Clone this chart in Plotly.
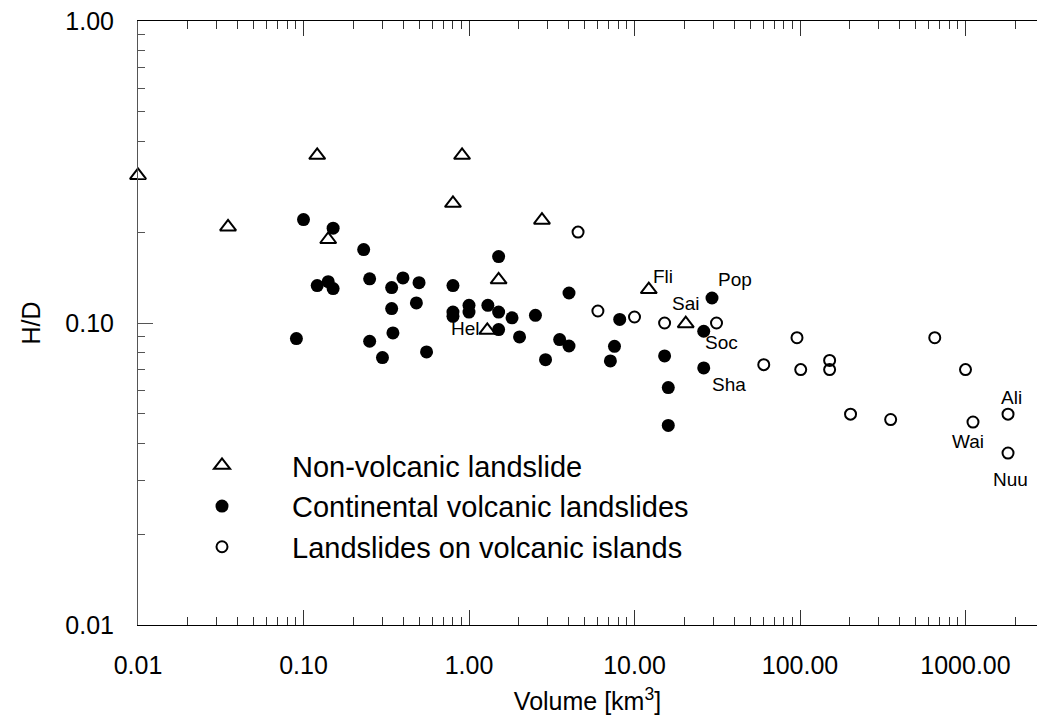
import numpy as np
import plotly.graph_objects as go

# ---------------- data ----------------
nonvolc_vol = [0.01, 0.035, 0.121, 0.141, 0.908, 0.80, 2.76, 1.51, 1.29, 12.2, 20.4]
nonvolc_hd = [0.308, 0.208, 0.359, 0.189, 0.359, 0.249, 0.219, 0.139, 0.0946, 0.129, 0.0995]

cont_vol = [0.100, 0.151, 0.231, 1.51, 0.121, 0.141, 0.151, 0.251, 0.341, 0.399,
            0.499, 0.80, 0.341, 0.481, 0.80, 0.80, 1.0, 1.0, 1.30, 1.51,
            1.82, 2.52, 1.51, 2.02, 0.0906, 0.251, 0.347, 0.554, 0.300, 2.90,
            4.02, 3.53, 4.02, 8.14, 7.57, 7.15, 15.2, 16.0, 16.0, 29.4,
            26.2, 26.2]
cont_hd = [0.220, 0.206, 0.175, 0.166, 0.133, 0.137, 0.130, 0.140, 0.131, 0.141,
           0.136, 0.133, 0.1116, 0.1165, 0.1087, 0.1052, 0.1144, 0.1087, 0.1144, 0.1087,
           0.104, 0.106, 0.0951, 0.0899, 0.0888, 0.0870, 0.0927, 0.0802, 0.0768, 0.0756,
           0.1257, 0.0881, 0.0839, 0.1028, 0.0837, 0.0749, 0.0778, 0.0611, 0.0458, 0.121,
           0.0939, 0.0710]

isl_vol = [4.56, 6.01, 10.0, 15.2, 31.3, 95.9, 60.4, 101, 151, 151,
           652, 1000, 202, 353, 1110, 1807, 1807]
isl_hd = [0.200, 0.1096, 0.1047, 0.100, 0.100, 0.0894, 0.0728, 0.0701, 0.0752, 0.0701,
          0.0894, 0.0701, 0.0499, 0.0479, 0.0470, 0.0499, 0.0371]

label_names = ["Hel", "Fli", "Sai", "Pop", "Soc", "Sha", "Ali", "Wai", "Nuu"]
label_vol = [1.29, 12.2, 20.4, 29.4, 26.2, 26.2, 1807, 1110, 1807]
label_hd = [0.0946, 0.129, 0.0995, 0.121, 0.0939, 0.0710, 0.0499, 0.0470, 0.0371]

series_names = ["Non-volcanic landslide", "Continental volcanic landslides",
                "Landslides on volcanic islands"]

x_tickvals = [0.01, 0.1, 1, 10, 100, 1000]
x_ticktext = ["0.01", "0.10", "1.00", "10.00", "100.00", "1000.00"]
y_tickvals = [0.01, 0.1, 1]
y_ticktext = ["0.01", "0.10", "1.00"]

# ---------------- styling / layout ----------------
label_shift = {"Hel": (-22, 2), "Fli": (14, 13), "Sai": (0, 20), "Pop": (23, 19),
               "Soc": (18, -11), "Sha": (25, -17), "Ali": (3, 17), "Wai": (-5, -19),
               "Nuu": (2, -26)}

FONT = "Arial, Liberation Sans, sans-serif"
W, H = 1037, 717
L, R, T, B = 138, 0, 21, 92
plot_w = W - L - R
plot_h = H - T - B
px_per_decade = 165.5
x_range = [-2, -2 + plot_w / px_per_decade]
y_range = [-2, 0]

minor_x = [m * 10.0 ** e for e in range(-2, 4) for m in range(2, 10)]
minor_y = [m * 10.0 ** e for e in range(-2, 0) for m in range(2, 10)]

fig = go.Figure()
fig.add_trace(go.Scatter(
    x=nonvolc_vol, y=nonvolc_hd, mode="markers", name=series_names[0],
    marker=dict(symbol="triangle-up-open", size=14, color="black", line=dict(width=2, color="black")),
    cliponaxis=False))
fig.add_trace(go.Scatter(
    x=cont_vol, y=cont_hd, mode="markers", name=series_names[1],
    marker=dict(symbol="circle", size=13, color="black", line=dict(width=0)),
    cliponaxis=False))
fig.add_trace(go.Scatter(
    x=isl_vol, y=isl_hd, mode="markers", name=series_names[2],
    marker=dict(symbol="circle-open", size=11, color="black", line=dict(width=2, color="black")),
    cliponaxis=False))

for n, v, h in zip(label_names, label_vol, label_hd):
    dx, dy = label_shift[n]
    fig.add_annotation(x=np.log10(v), y=np.log10(h), xref="x", yref="y", text=n,
                       showarrow=False, xshift=dx, yshift=dy,
                       font=dict(family=FONT, size=19, color="black"))

fig.update_layout(
    width=W, height=H,
    margin=dict(l=L, r=R, t=T, b=B, pad=0),
    paper_bgcolor="white", plot_bgcolor="white",
    font=dict(family=FONT, size=25, color="black"),
    showlegend=True,
    legend=dict(x=(152 - L) / plot_w, y=(625 - 440) / plot_h, xanchor="left", yanchor="top",
                font=dict(family=FONT, size=29, color="black"), itemwidth=130,
                bgcolor="rgba(0,0,0,0)", borderwidth=0, tracegroupgap=0),
    xaxis=dict(type="log", range=x_range, showgrid=False, zeroline=False,
               showline=True, linecolor="black", linewidth=1, mirror="allticks",
               ticks="inside", ticklen=15, tickwidth=1, tickcolor="#333",
               tickvals=x_tickvals, ticktext=x_ticktext, ticklabelstandoff=18,
               tickfont=dict(family=FONT, size=25, color="black"),
               minor=dict(tickvals=minor_x, ticks="inside", ticklen=8, tickwidth=1, tickcolor="#333", showgrid=False),
               title=dict(text="Volume [km<sup>3</sup>]", standoff=14,
                          font=dict(family=FONT, size=25, color="black"))),
    yaxis=dict(type="log", range=y_range, showgrid=False, zeroline=False,
               showline=True, linecolor="#555", linewidth=1,
               ticks="inside", ticklen=15, tickwidth=1, tickcolor="#555",
               tickvals=y_tickvals, ticktext=y_ticktext, ticklabelstandoff=18,
               tickfont=dict(family=FONT, size=25, color="black"),
               minor=dict(tickvals=minor_y, ticks="inside", ticklen=7, tickwidth=1, tickcolor="#555", showgrid=False),
               title=dict(text="H/D", standoff=17,
                          font=dict(family=FONT, size=25, color="black"))),
    yaxis2=dict(type="log", range=y_range, overlaying="y", side="right", anchor="x",
                showgrid=False, zeroline=False, showline=False,
                ticks="inside", ticklen=6, tickwidth=1, tickcolor="#333",
                tickvals=y_tickvals, showticklabels=False),
)

fig.write_html("out.html")
